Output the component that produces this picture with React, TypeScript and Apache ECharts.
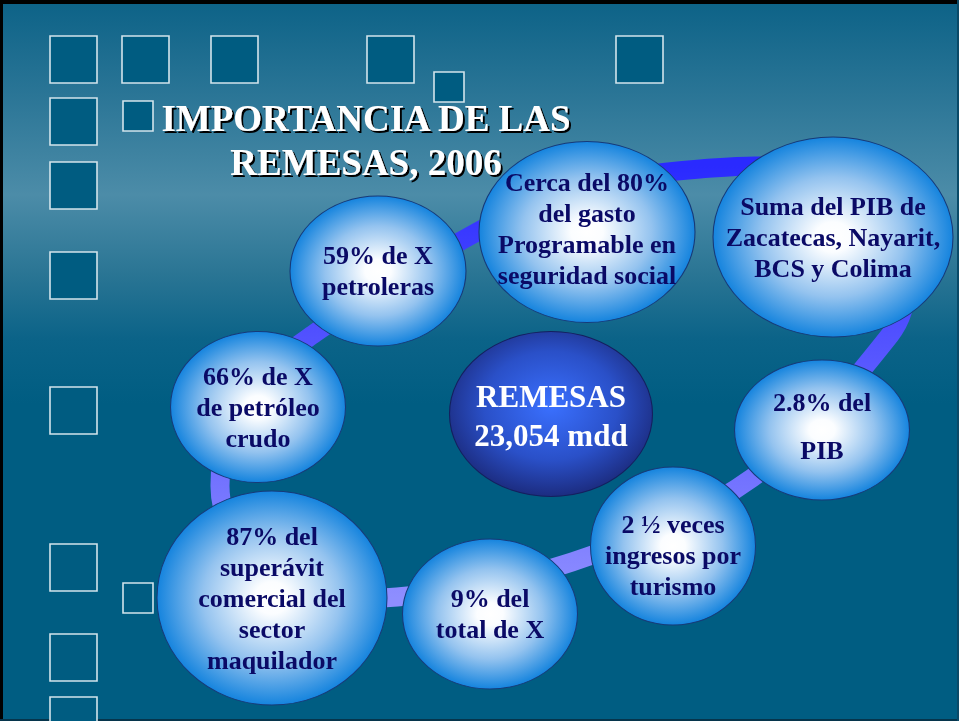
import { useEffect, useRef } from "react";
import * as echarts from "echarts";

// ---- Data ----
const titleLines = ["IMPORTANCIA DE LAS", "REMESAS, 2006"];
const centerLabel = "REMESAS\n23,054 mdd";
const centerPos = [551, 414];
const centerSize = [203, 165];

const bubbleLabels = [
  "59% de X\npetroleras",
  "Cerca del 80%\ndel gasto\nProgramable en\nseguridad social",
  "Suma del PIB de\nZacatecas, Nayarit,\nBCS y Colima",
  "2.8% del\nPIB",
  "2 ½ veces\ningresos por\nturismo",
  "9% del\ntotal de X",
  "87% del\nsuperávit\ncomercial del\nsector\nmaquilador",
  "66% de X\nde petróleo\ncrudo",
];
const bubbleX = [378, 587, 833, 822, 673, 490, 272, 258];
const bubbleY = [271, 232, 237, 430, 546, 614, 598, 407];
const bubbleW = [176, 216, 240, 175, 165, 175, 230, 175];
const bubbleH = [150, 181, 200, 140, 158, 150, 214, 151];

// ring connecting the bubbles (clockwise from top)
const ringPoints = [
  [700, 169], [800, 172], [875, 222], [905, 285], [890, 335],
  [752, 478], [572, 562], [397, 597], [300, 585], [238, 540],
  [220, 485], [240, 400], [315, 333], [477, 232], [580, 188],
];

// decorative squares [x, y, size]
const squares = [
  [50, 36, 47], [122, 36, 47], [211, 36, 47], [367, 36, 47], [616, 36, 47],
  [50, 98, 47], [50, 162, 47], [50, 252, 47], [50, 387, 47], [50, 544, 47],
  [50, 634, 47], [50, 697, 47],
  [123, 101, 30], [434, 72, 30], [123, 583, 30],
];

const ELLIPSE =
  "path://M0,50 C0,22.4 22.4,0 50,0 C77.6,0 100,22.4 100,50 C100,77.6 77.6,100 50,100 C22.4,100 0,77.6 0,50 Z";

const W = 959;
const H = 721;

export default function App() {
  const ref = useRef<HTMLDivElement>(null);

  useEffect(() => {
    if (!ref.current) return;
    const chart = echarts.init(ref.current, undefined, { renderer: "svg" });

    const bubbleFill = new echarts.graphic.RadialGradient(0.5, 0.5, 0.5, [
      { offset: 0, color: "#ffffff" },
      { offset: 0.15, color: "#fbfdff" },
      { offset: 0.6, color: "#94c3ef" },
      { offset: 1, color: "#1584de" },
    ]);
    const centerFill = new echarts.graphic.RadialGradient(0.5, 0.45, 0.55, [
      { offset: 0, color: "#3a70ff" },
      { offset: 0.6, color: "#2a50c8" },
      { offset: 1, color: "#1c2c80" },
    ]);

    const data: any[] = bubbleLabels.map((name, i) => ({
      name,
      value: [bubbleX[i], bubbleY[i]],
      symbolSize: [bubbleW[i], bubbleH[i]],
      label:
        i === 3
          ? { lineHeight: 48, offset: [0, -4] }
          : i === 4
          ? { offset: [0, 9] }
          : i === 1
          ? { offset: [0, -3] }
          : {},
    }));
    data.push({
      name: centerLabel,
      value: centerPos,
      symbolSize: centerSize,
      itemStyle: { color: centerFill, borderColor: "#14205e", borderWidth: 1 },
      label: {
        color: "#ffffff",
        fontSize: 31,
        lineHeight: 39,
        offset: [0, 2],
      },
    });

    const graphics: any[] = [
      {
        type: "rect",
        z: -100,
        shape: { x: 0, y: 0, width: W, height: H },
        style: {
          fill: new echarts.graphic.LinearGradient(0, 0, 0, 1, [
            { offset: 0, color: "#0c6287" },
            { offset: 0.13, color: "#2a7596" },
            { offset: 0.27, color: "#4c8ca8" },
            { offset: 0.38, color: "#2a7594" },
            { offset: 0.47, color: "#0b6388" },
            { offset: 0.56, color: "#005d82" },
            { offset: 1, color: "#005d82" },
          ]),
        },
      },
      { type: "rect", z: -90, shape: { x: 0, y: 0, width: W, height: 4 }, style: { fill: "#000000" } },
      { type: "rect", z: -90, shape: { x: 0, y: 0, width: 3, height: H }, style: { fill: "#000000" } },
      { type: "rect", z: -90, shape: { x: 0, y: H - 2, width: W, height: 2 }, style: { fill: "#06354c" } },
      { type: "rect", z: -90, shape: { x: W - 2, y: 0, width: 2, height: H }, style: { fill: "#0a4a68" } },
      ...squares.map(([x, y, s]) => ({
        type: "rect",
        z: -50,
        shape: { x, y, width: s, height: s },
        style: { fill: "#005c81", stroke: "#d2e4ec", lineWidth: 1.6 },
      })),
      {
        type: "polygon",
        z: -10,
        shape: { points: ringPoints, smooth: 0.35 },
        style: {
          fill: "none",
          stroke: new echarts.graphic.LinearGradient(0, 0, 0, 1, [
            { offset: 0, color: "#2a2aff" },
            { offset: 1, color: "#8e8eff" },
          ]),
          lineWidth: 19,
        },
      },
      ...titleLines.map((t, i) => ({
        type: "text",
        z: 100,
        x: 366,
        y: 118 + i * 44,
        style: {
          text: t,
          fill: "#ffffff",
          fontSize: 37,
          fontWeight: "bold",
          fontFamily: "Liberation Serif",
          textAlign: "center",
          textVerticalAlign: "middle",
          textShadowColor: "#000000",
          textShadowOffsetX: 2,
          textShadowOffsetY: 2,
          textShadowBlur: 1,
        },
      })),
    ];

    chart.setOption({
      animation: false,
      grid: { left: 0, right: 0, top: 0, bottom: 0 },
      xAxis: { type: "value", min: 0, max: W, show: false },
      yAxis: { type: "value", min: 0, max: H, inverse: true, show: false },
      graphic: graphics,
      series: [
        {
          type: "scatter",
          silent: true,
          symbol: ELLIPSE,
          z: 5,
          itemStyle: {
            color: bubbleFill,
            borderColor: "#173a78",
            borderWidth: 1,
            opacity: 1,
          },
          label: {
            show: true,
            position: "inside",
            formatter: (p: any) => p.name,
            color: "#0a0a66",
            fontFamily: "Liberation Serif",
            fontWeight: "bold",
            fontSize: 26,
            lineHeight: 31,
            align: "center",
          },
          emphasis: { disabled: true },
          data,
        },
      ],
    });

    return () => chart.dispose();
  }, []);

  return (
    <div
      ref={ref}
      style={{ position: "fixed", left: 0, top: 0, width: W, height: H }}
    />
  );
}
